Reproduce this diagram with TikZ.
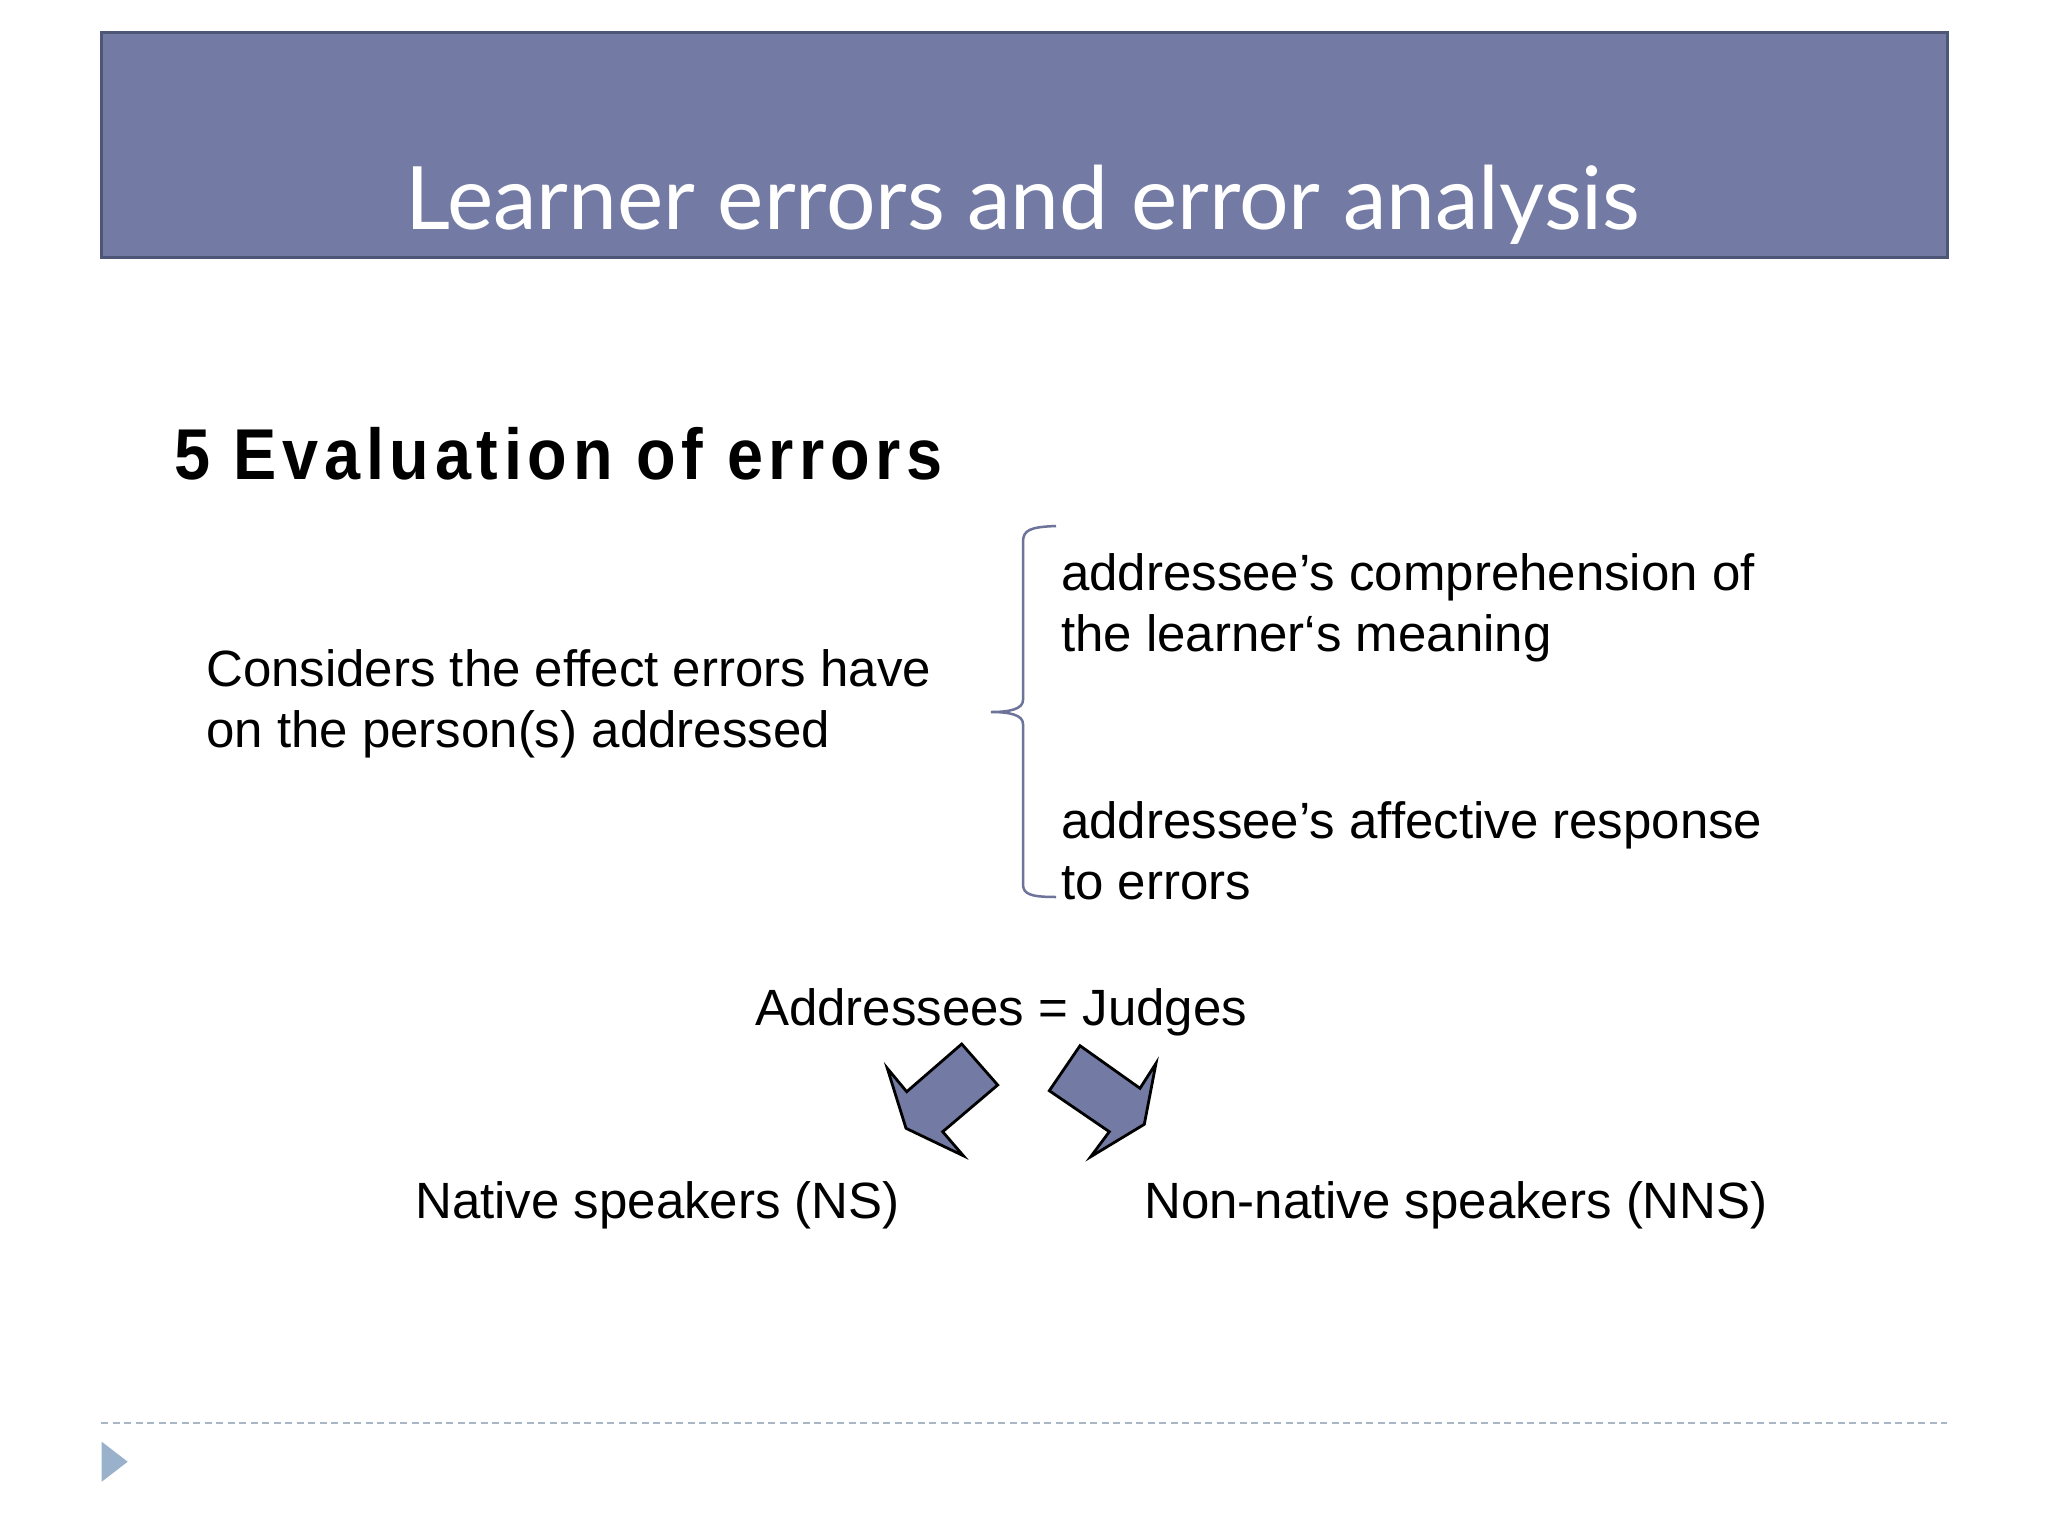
\documentclass[tikz,border=0pt]{standalone}
\usepackage{fontspec}
\setmainfont[Ligatures=NoCommon]{Liberation Sans}
\newfontfamily\titlefont{Lato}
\newfontfamily\headfont[FakeStretch=0.9,LetterSpace=7.9]{Liberation Sans}
\usepackage{tikz}
\usetikzlibrary{positioning}
\definecolor{barfill}{RGB}{115,123,165}
\definecolor{barline}{RGB}{78,86,120}
\definecolor{bracecol}{RGB}{110,115,154}
\definecolor{rulecol}{RGB}{169,182,198}
\definecolor{markcol}{RGB}{154,177,203}
\tikzset{
    titlebar/.style={draw=barline, fill=barfill, line width=3pt},
    titletext/.style={text=white, inner sep=0pt, anchor=base,
        font=\titlefont\fontsize{87.5}{100}\selectfont},
    headtext/.style={inner sep=0pt, anchor=base west,
        font=\headfont\bfseries\fontsize{72}{80}\selectfont},
    bodytext/.style={inner sep=0pt, anchor=base west, align=left,
        font=\fontsize{51}{61}\selectfont},
    blockarrow/.style={draw=black, fill=barfill, line width=2.8pt, line join=miter},
    bracket/.style={draw=bracecol, line width=2.5pt},
    footrule/.style={draw=rulecol, line width=2pt, dash pattern=on 7pt off 4.5pt},
}
\begin{document}
\begin{tikzpicture}[x=1pt, y=-1pt]
	\useasboundingbox (0,0) rectangle (2048,1536);
	\fill[white] (0,0) rectangle (2048,1536);
	% title bar
	\draw[titlebar] (101,33) rectangle (1947,257);
	\node[titletext] (title) at (1023,229) {Learner errors and error analysis};
	\node[headtext] (head) at (174,479) {5 Evaluation of errors};
	% two-line nodes sit on their last baseline
	\node[bodytext] (effect) at (206,747) {Considers the effect errors have\\on the person(s) addressed};
	\node[bodytext] (compr) at (1061,651) {addressee’s comprehension of\\the learner‘s meaning};
	\node[bodytext] (affect) at (1061,899) {addressee’s affective response\\to errors};
	% brace
	\draw[bracket] (1056,526) .. controls (1030,527) and (1023,530) .. (1023,542)
		-- (1023,700) .. controls (1023,709) and (1010,712) .. (991,712)
		.. controls (1010,712) and (1023,715) .. (1023,724)
		-- (1023,884) .. controls (1023,894) and (1030,897) .. (1056,897);
	\node[bodytext] (judges) at (755,1025) {Addressees = Judges};
	% block arrows
	\draw[blockarrow] (961.7,1044) -- (997.7,1085) -- (942.7,1131.7) -- (963.3,1155.7)
		-- (906,1128.3) -- (887.3,1068.3) -- (906.7,1091.7) -- cycle;
	\draw[blockarrow] (1080,1045.7) -- (1140,1088.3) -- (1156,1063.3) -- (1144.3,1124.3)
		-- (1090.7,1156.7) -- (1109.3,1131.7) -- (1049.3,1090.7) -- cycle;
	\node[bodytext] (ns) at (415,1218.6) {Native speakers (NS)};
	\node[bodytext] (nns) at (1144,1218.6) {Non-native speakers (NNS)};
	% footer
	\coordinate (ruleL) at (101,1423);
	\coordinate (ruleR) at (1947,1423);
	\draw[footrule] (ruleL) -- (ruleR);
	\fill[markcol] (101.7,1441.7) -- (127.7,1461.7) -- (101.7,1481.7) -- cycle;
\end{tikzpicture}
\end{document}
